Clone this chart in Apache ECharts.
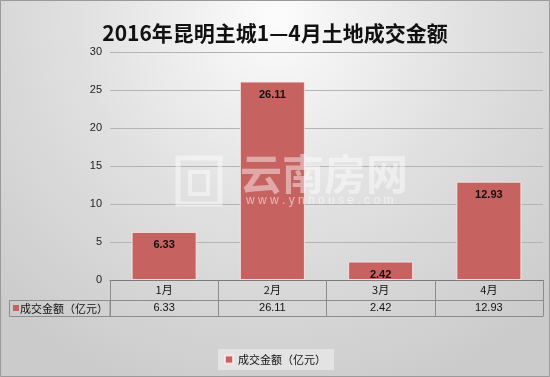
<!DOCTYPE html>
<html>
<head>
<meta charset="utf-8">
<script src="https://cdn.jsdelivr.net/npm/echarts@6/dist/echarts.min.js"></script>
<style>
html,body{margin:0;padding:0;}
#main{width:550px;height:377px;}
</style>
</head>
<body>
<div id="main"></div>
<script>
var titleText = '2016年昆明主城1—4月土地成交金额';
var categories = ['1月', '2月', '3月', '4月'];
var seriesName = '成交金额（亿元）';
var values = [6.33, 26.11, 2.42, 12.93];
var yTicks = { min: 0, max: 30, interval: 5 };

var cjk = '"Noto Sans CJK SC", "Microsoft YaHei", sans-serif';
var num = '"Liberation Sans", "Noto Sans CJK SC", sans-serif';
var lineCol = '#8c8c8c';

var chart = echarts.init(document.getElementById('main'));
chart.setOption({
  backgroundColor: {
    type: 'radial', x: 0.5, y: 0.05, r: 1.05,
    colorStops: [
      { offset: 0, color: '#fcfcfc' },
      { offset: 0.5, color: '#e0e0e0' },
      { offset: 1, color: '#cbcbcb' }
    ]
  },
  animation: false,
  title: {
    text: titleText,
    left: 'center',
    top: 18,
    textStyle: { fontFamily: cjk, fontSize: 21, fontWeight: 'bold', color: '#111' }
  },
  legend: {
    data: [seriesName],
    bottom: 7,
    left: 'center',
    icon: 'rect',
    itemWidth: 8,
    itemHeight: 8,
    itemGap: 4,
    padding: [5, 8, 5, 6],
    backgroundColor: 'rgba(228,228,228,0.9)',
    textStyle: { fontFamily: cjk, fontSize: 11, color: '#111' }
  },
  grid: { left: 110, right: 7, top: 52, bottom: 97, containLabel: false },
  xAxis: [
    {
      type: 'category',
      data: categories,
      position: 'bottom',
      axisLine: { show: true, lineStyle: { color: '#7a7a7a', width: 1 } },
      axisTick: { show: true, interval: 0, alignWithLabel: false, length: 36, lineStyle: { color: lineCol } },
      axisLabel: { margin: 4, fontFamily: cjk, fontSize: 11, color: '#111' }
    },
    {
      type: 'category',
      data: values.map(function (v) { return String(v); }),
      position: 'bottom',
      offset: 20,
      axisLine: { show: true, lineStyle: { color: lineCol } },
      axisTick: { show: false },
      axisLabel: { margin: 2, fontFamily: num, fontSize: 11, color: '#111' }
    },
    {
      type: 'category',
      data: categories,
      position: 'bottom',
      offset: 36,
      axisLine: { show: true, lineStyle: { color: lineCol } },
      axisTick: { show: false },
      axisLabel: { show: false }
    }
  ],
  yAxis: {
    type: 'value',
    min: yTicks.min,
    max: yTicks.max,
    interval: yTicks.interval,
    axisLine: { show: false },
    axisTick: { show: false },
    axisLabel: { margin: 8, fontFamily: num, fontSize: 11, color: '#222' },
    splitLine: { lineStyle: { color: '#b4b4b4', width: 1 } }
  },
  series: [{
    name: seriesName,
    type: 'bar',
    data: values,
    barWidth: 65,
    itemStyle: { color: '#c66260', borderColor: 'rgba(255,235,235,0.8)', borderWidth: 1 },
    label: {
      show: true,
      position: 'insideTop',
      distance: 8,
      fontFamily: num,
      fontSize: 11,
      fontWeight: 'bold',
      color: '#111'
    }
  }],
  graphic: [
    { type: 'rect', shape: { x: 0.5, y: 0.5, width: 549, height: 376 }, style: { fill: 'none', stroke: '#9a9a9a', lineWidth: 1 }, z: 100 },
    { type: 'rect', shape: { x: 9.5, y: 300.5, width: 100.5, height: 16 }, style: { fill: 'none', stroke: lineCol, lineWidth: 1 }, z: 10 },
    { type: 'rect', shape: { x: 13, y: 305, width: 6, height: 6 }, style: { fill: '#c66260' }, z: 10 },
    { type: 'text', x: 20, y: 308.5, style: { text: seriesName, font: '11px ' + cjk, fill: '#111', textVerticalAlign: 'middle' }, z: 10 },
    { type: 'rect', shape: { x: 178, y: 158, width: 42, height: 46 }, style: { fill: 'none', stroke: 'rgba(255,255,255,0.45)', lineWidth: 5 }, z: 50 },
    { type: 'rect', shape: { x: 190, y: 172, width: 18, height: 22 }, style: { fill: 'none', stroke: 'rgba(255,255,255,0.45)', lineWidth: 4 }, z: 50 },
    { type: 'text', x: 240, y: 174, style: { text: '云南房网', font: 'bold 42px ' + cjk, fill: 'rgba(255,255,255,0.45)', textVerticalAlign: 'middle' }, z: 50 },
    { type: 'text', x: 246, y: 201, style: { text: 'w w w . y n h o u s e . c o m', font: '12px ' + num, fill: 'rgba(255,255,255,0.55)', textVerticalAlign: 'middle' }, z: 50 }
  ]
});
</script>
</body>
</html>
